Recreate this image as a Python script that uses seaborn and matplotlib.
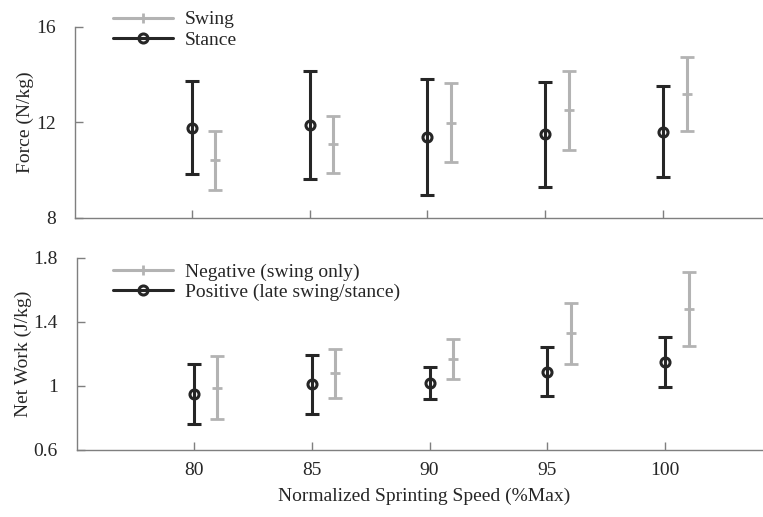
import numpy as np
import matplotlib
matplotlib.use("Agg")
import matplotlib.pyplot as plt
from matplotlib.lines import Line2D
import seaborn as sns

# data
speeds = [80, 85, 90, 95, 100]

stance_force = [11.78, 11.90, 11.38, 11.49, 11.61]
stance_force_err = [1.97, 2.27, 2.45, 2.20, 1.90]
swing_force = [10.40, 11.07, 11.99, 12.50, 13.20]
swing_force_err = [1.24, 1.20, 1.65, 1.66, 1.55]

positive_work = [0.95, 1.01, 1.02, 1.09, 1.15]
positive_work_err = [0.186, 0.183, 0.10, 0.155, 0.156]
negative_work = [0.99, 1.08, 1.17, 1.33, 1.48]
negative_work_err = [0.197, 0.154, 0.124, 0.19, 0.233]

sns.set_style("ticks")
plt.rcParams['font.family'] = ['Liberation Serif', 'DejaVu Serif']
plt.rcParams['font.size'] = 14

GRAY = "#b3b3b3"
BLACK = "#262626"
SPINE = "#7f7f7f"

fig = plt.figure(figsize=(7.63, 5.17), dpi=100)
ax1 = fig.add_axes([0.0983, 0.579, 0.91, 0.369])
ax2 = fig.add_axes([0.101, 0.1296, 0.91, 0.3714])

x = np.array(speeds)


def draw(ax, gray_y, gray_err, black_y, black_err, labels, anchor_y):
    ax.errorbar(x + 1, gray_y, yerr=gray_err, color=GRAY, lw=2.2, capsize=5,
                capthick=2.2, marker="+", ms=7, mew=2, ls="none")
    ax.errorbar(x, black_y, yerr=black_err, color=BLACK, lw=2.2, capsize=5,
                capthick=2.2, marker="o", ms=6.5, mfc="none", mec=BLACK, mew=2.2,
                ls="none")
    ax.set_xlim(75.05, 104.5)
    sns.despine(ax=ax)
    for s in ["left", "bottom"]:
        ax.spines[s].set_color(SPINE)
        ax.spines[s].set_linewidth(1.0)
    ax.tick_params(direction="in", length=6, width=1, color=SPINE, labelsize=14)
    ax.tick_params(axis="y", pad=14)
    ax.tick_params(axis="x", pad=9)
    ax.set_xticks(speeds)
    ax.grid(False)
    handles = [
        Line2D([], [], color=GRAY, lw=2.2, marker="+", ms=7, mew=2),
        Line2D([], [], color=BLACK, lw=2.2, marker="o", ms=6.5, mfc="none", mew=2.2),
    ]
    ax.legend(handles, labels, loc="upper left", bbox_to_anchor=(0.135, anchor_y),
              bbox_transform=fig.transFigure, frameon=False, fontsize=14,
              handlelength=3.1, borderpad=0, labelspacing=0.15, handletextpad=0.6)


draw(ax1, swing_force, swing_force_err, stance_force, stance_force_err,
     ["Swing", "Stance"], 0.998)
ax1.set_ylim(8, 16)
ax1.set_yticks([8, 12, 16])
ax1.set_xticklabels([])
ax1.set_ylabel("Force (N/kg)", fontsize=14, labelpad=1)

draw(ax2, negative_work, negative_work_err, positive_work, positive_work_err,
     ["Negative (swing only)", "Positive (late swing/stance)"], 0.51)
ax2.set_ylim(0.6, 1.8)
ax2.set_yticks([0.6, 1.0, 1.4, 1.8])
ax2.set_yticklabels(["0.6", "1", "1.4", "1.8"])
ax2.set_ylabel("Net Work (J/kg)", fontsize=14, labelpad=1)
ax2.set_xlabel("Normalized Sprinting Speed (%Max)", fontsize=14, labelpad=6)

fig.savefig("out.png", dpi=100)
